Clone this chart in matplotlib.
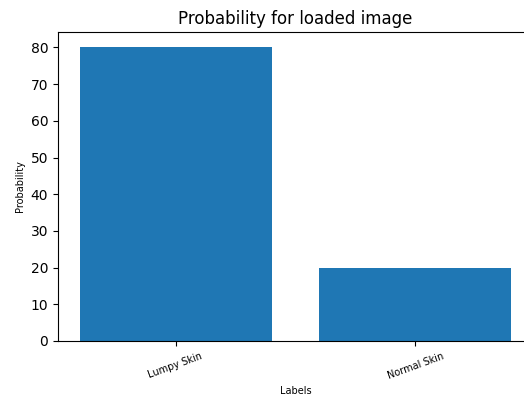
import matplotlib
matplotlib.use("Agg")
import matplotlib.pyplot as plt

labels = ["Lumpy Skin", "Normal Skin"]
probabilities = [80.2, 19.9]

fig = plt.figure(figsize=(5.24, 4.09), dpi=100)
ax = fig.add_axes([58/524, 1 - 341/409, (533-58)/524, (341-32)/409])
ax.bar(labels, probabilities, color="#1f77b4")
ax.spines["right"].set_visible(False)
ax.set_title("Probability for loaded image", fontsize=12)
ax.set_xlabel("Labels", fontsize=7)
ax.set_ylabel("Probability", fontsize=7)
ax.tick_params(axis="x", labelsize=7, labelrotation=20)
ax.tick_params(axis="y", labelsize=10)
fig.savefig("out.png", dpi=100)
